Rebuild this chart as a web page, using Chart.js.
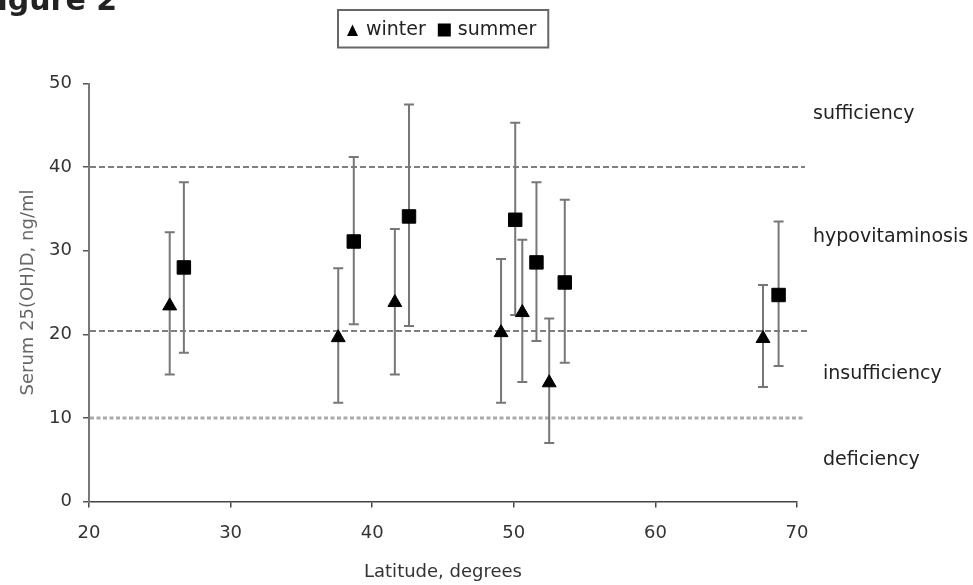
<!DOCTYPE html>
<html><head><meta charset="utf-8">
<script src="https://cdn.jsdelivr.net/npm/chart.js@4/dist/chart.umd.min.js"></script>
<style>html,body{margin:0;padding:0;background:#fff;} #wrap{width:973px;height:585px;position:relative;}</style>
</head><body><div id="wrap"><canvas id="c" width="973" height="585"></canvas></div>
<script>
// ---- data ----
const seriesNames = ['winter', 'summer'];
const latitudeWinter = [25.7, 37.6, 41.6, 49.1, 50.6, 52.5, 67.6];
const meanWinter     = [23.4, 19.6, 23.8, 20.2, 22.6, 14.2, 19.5];
const upperWinter    = [32.2, 27.9, 32.6, 29.0, 31.3, 21.9, 25.9];
const lowerWinter    = [15.2, 11.8, 15.2, 11.8, 14.3, 7.0, 13.7];
const latitudeSummer = [26.7, 38.7, 42.6, 50.1, 51.6, 53.6, 68.7];
const meanSummer     = [28.0, 31.1, 34.1, 33.7, 28.6, 26.2, 24.7];
const upperSummer    = [38.2, 41.2, 47.5, 45.3, 38.2, 36.1, 33.5];
const lowerSummer    = [17.8, 21.2, 21.0, 22.3, 19.2, 16.6, 16.2];
const xTicks = [20, 30, 40, 50, 60, 70];
const yTicks = [0, 10, 20, 30, 40, 50];
const thresholdValues = [40, 20.4, 10];
const zoneNames = ['sufficiency', 'hypovitaminosis', 'insufficiency', 'deficiency'];
const zoneLabelValues = [46.4, 31.6, 15.3, 4.9];
const figureTitle = 'Figure 2';
const xTitle = 'Latitude, degrees';
const yTitle = 'Serum 25(OH)D, ng/ml';

function buildPoints(xs, ms, his, los) {
  return xs.map((v, i) => ({x: v, y: ms[i], hi: his[i], lo: los[i]}));
}

const thresholdStyles = [
  {color: '#555', width: 1.5, dash: [6, 3], extend: 8},
  {color: '#555', width: 1.5, dash: [6, 3], extend: 11},
  {color: '#aaa', width: 3, dash: [4, 2.5], extend: 7}
];
const zoneLabelOffsets = [16, 16, 26, 26];
const FONT = "'DejaVu Sans', sans-serif";

const decor = {
  id: 'decor',
  beforeDraw(chart) {
    const {ctx, width, height} = chart;
    ctx.save(); ctx.fillStyle = '#fff'; ctx.fillRect(0, 0, width, height); ctx.restore();
  },
  beforeDatasetsDraw(chart) {
    const {ctx, chartArea, scales: {x, y}} = chart;
    thresholdValues.forEach((v, i) => {
      const st = thresholdStyles[i];
      const py = y.getPixelForValue(v);
      ctx.save();
      ctx.strokeStyle = st.color; ctx.lineWidth = st.width; ctx.setLineDash(st.dash);
      ctx.beginPath(); ctx.moveTo(chartArea.left + 1, py); ctx.lineTo(chartArea.right + st.extend, py); ctx.stroke();
      ctx.restore();
    });
    chart.data.datasets.forEach(ds => {
      ds.data.forEach(p => {
        const px = x.getPixelForValue(p.x);
        const ph = y.getPixelForValue(p.hi);
        const pl = y.getPixelForValue(p.lo);
        ctx.save();
        ctx.strokeStyle = '#777'; ctx.lineWidth = 2;
        ctx.beginPath();
        ctx.moveTo(px, ph); ctx.lineTo(px, pl);
        ctx.moveTo(px - 5, ph); ctx.lineTo(px + 5, ph);
        ctx.moveTo(px - 5, pl); ctx.lineTo(px + 5, pl);
        ctx.stroke();
        ctx.restore();
      });
    });
  },
  afterDraw(chart) {
    const {ctx, chartArea, scales: {y}} = chart;
    ctx.save();
    ctx.fillStyle = '#222';
    ctx.font = '19px ' + FONT;
    ctx.textBaseline = 'middle'; ctx.textAlign = 'left';
    zoneNames.forEach((n, i) => {
      ctx.fillText(n, chartArea.right + zoneLabelOffsets[i], y.getPixelForValue(zoneLabelValues[i]));
    });
    ctx.font = 'bold 30px ' + FONT;
    ctx.textBaseline = 'alphabetic';
    ctx.fillStyle = '#222';
    ctx.fillText(figureTitle, -23, 10);
    ctx.font = '19px ' + FONT;
    ctx.textBaseline = 'middle';
    const cy = 30;
    let xPos = 346;
    const startX = 338;
    chart.data.datasets.forEach((ds) => {
      ctx.fillStyle = '#000';
      const mc = xPos + 6.5;
      if (ds.pointStyle === 'triangle') {
        ctx.beginPath();
        ctx.moveTo(mc - 5.5, cy + 6); ctx.lineTo(mc + 5.5, cy + 6); ctx.lineTo(mc, cy - 5.5); ctx.closePath(); ctx.fill();
      } else {
        ctx.fillRect(mc - 6.5, cy - 6.5, 13, 13);
      }
      ctx.fillStyle = '#222';
      ctx.fillText(ds.label, xPos + 20, cy);
      xPos += 20 + ctx.measureText(ds.label).width + 12;
    });
    ctx.strokeStyle = '#666'; ctx.lineWidth = 2;
    ctx.strokeRect(startX, 10, xPos - startX, 37.5);
    ctx.restore();
  }
};

Chart.defaults.font.family = FONT;
Chart.defaults.color = '#333';

new Chart(document.getElementById('c'), {
  type: 'scatter',
  data: {
    datasets: [
      {label: seriesNames[0], data: buildPoints(latitudeWinter, meanWinter, upperWinter, lowerWinter),
       pointStyle: 'triangle', pointRadius: 8, pointHoverRadius: 8, backgroundColor: '#000', borderColor: '#000', borderWidth: 1},
      {label: seriesNames[1], data: buildPoints(latitudeSummer, meanSummer, upperSummer, lowerSummer),
       pointStyle: 'rect', pointRadius: 9.5, pointHoverRadius: 9.5, backgroundColor: '#000', borderColor: '#000', borderWidth: 1}
    ]
  },
  options: {
    responsive: false,
    animation: false,
    devicePixelRatio: 1,
    layout: {padding: {top: 83.5, right: 176, bottom: 0, left: 0}},
    plugins: {legend: {display: false}, tooltip: {enabled: false}},
    scales: {
      x: {
        type: 'linear', min: 20, max: 70,
        afterBuildTicks: s => { s.ticks = xTicks.map(v => ({value: v})); },
        afterFit: s => { s.height = 83.5; },
        grid: {drawOnChartArea: false, drawTicks: true, tickLength: 6, color: '#444', lineWidth: 1.5},
        border: {display: true, color: '#444', width: 1.5},
        ticks: {font: {size: 18}, color: '#333', padding: 15, maxRotation: 0},
        title: {display: true, text: xTitle, font: {size: 18}, color: '#333', padding: {top: 0, bottom: 2}}
      },
      y: {
        type: 'linear', min: 0, max: 50,
        afterBuildTicks: s => { s.ticks = yTicks.map(v => ({value: v})); },
        afterFit: s => { s.width = 89; },
        grid: {drawOnChartArea: false, drawTicks: true, tickLength: 6, color: '#555', lineWidth: 1.5},
        border: {display: true, color: '#777', width: 2},
        ticks: {font: {size: 18}, color: '#333', padding: 11},
        title: {display: true, text: yTitle, font: {size: 18}, color: '#666', padding: {top: 18, bottom: 0}}
      }
    }
  },
  plugins: [decor]
});
</script>
</body></html>
